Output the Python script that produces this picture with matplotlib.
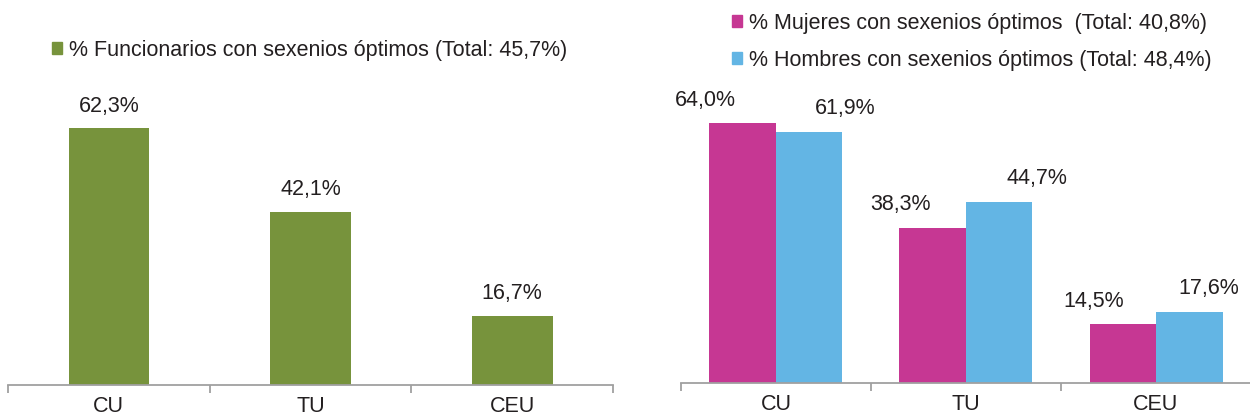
import matplotlib.pyplot as plt
from matplotlib.patches import Patch

plt.rcParams['font.family'] = ['Liberation Sans', 'DejaVu Sans']

categories = ["CU", "TU", "CEU"]
funcionarios = [62.3, 42.1, 16.7]
mujeres = [64.0, 38.3, 14.5]
hombres = [61.9, 44.7, 17.6]

label_funcionarios = "% Funcionarios con sexenios óptimos (Total: 45,7%)"
label_mujeres = "% Mujeres con sexenios óptimos  (Total: 40,8%)"
label_hombres = "% Hombres con sexenios óptimos (Total: 48,4%)"

GREEN = "#77933C"
MAGENTA = "#C63793"
BLUE = "#63B5E4"
AXIS_GREY = "#A0A0A0"
TEXT = "#231F20"
FS = 15.5


def fmt(v):
    return f"{v:.1f}%".replace(".", ",")


def style_axis(ax):
    for side in ("left", "right", "top"):
        ax.spines[side].set_visible(False)
    ax.spines["bottom"].set_color(AXIS_GREY)
    ax.spines["bottom"].set_linewidth(1.3)
    ax.set_yticks([])
    ax.set_xlim(-0.5, len(categories) - 0.5)
    ax.set_ylim(0, 70)
    ax.set_xticks(range(len(categories)))
    ax.set_xticklabels(categories, fontsize=FS, color=TEXT)
    ax.tick_params(axis="x", which="major", length=0, pad=8)
    ax.set_xticks([i - 0.5 for i in range(len(categories) + 1)], minor=True)
    ax.tick_params(axis="x", which="minor", length=6, width=1.3,
                   color=AXIS_GREY, direction="out")


fig = plt.figure(figsize=(12.5, 4.19), dpi=100)

# left panel: all civil servants
ax1 = fig.add_axes([0.0064, 0.0812, 0.484, 0.688])
x = list(range(len(categories)))
ax1.bar(x, funcionarios, width=0.4, color=GREEN)
for xi, v in zip(x, funcionarios):
    ax1.annotate(fmt(v), (xi, v), xytext=(0, 16), textcoords="offset points",
                 ha="center", va="center", fontsize=FS, color=TEXT)
style_axis(ax1)
ax1.legend(handles=[Patch(color=GREEN, label=label_funcionarios)],
           loc="center left", bbox_to_anchor=(0.0416, 0.880),
           bbox_transform=fig.transFigure, frameon=False, fontsize=FS,
           handlelength=0.47, handleheight=0.47, handletextpad=0.3,
           borderaxespad=0, borderpad=0, labelcolor=TEXT)

# right panel: women vs men
ax2 = fig.add_axes([0.5448, 0.0859, 0.456, 0.678])
w = 0.35
xm = [xi - w / 2 for xi in x]
xh = [xi + w / 2 for xi in x]
ax2.bar(xm, mujeres, width=w, color=MAGENTA)
ax2.bar(xh, hombres, width=w, color=BLUE)
off_m = [-27, -23, -21]
off_h = [26, 27, 14]
for xi, v, dx in zip(xm, mujeres, off_m):
    ax2.annotate(fmt(v), (xi, v), xytext=(dx, 16.5), textcoords="offset points",
                 ha="center", va="center", fontsize=FS, color=TEXT)
for xi, v, dx in zip(xh, hombres, off_h):
    ax2.annotate(fmt(v), (xi, v), xytext=(dx, 16.5), textcoords="offset points",
                 ha="center", va="center", fontsize=FS, color=TEXT)
style_axis(ax2)
ax2.legend(handles=[Patch(color=MAGENTA, label=label_mujeres),
                    Patch(color=BLUE, label=label_hombres)],
           loc="center left", bbox_to_anchor=(0.5856, 0.900),
           bbox_transform=fig.transFigure, frameon=False, fontsize=FS,
           handlelength=0.47, handleheight=0.47, handletextpad=0.3,
           labelspacing=0.75, borderaxespad=0, borderpad=0, labelcolor=TEXT)

fig.savefig("out.png", dpi=100)
